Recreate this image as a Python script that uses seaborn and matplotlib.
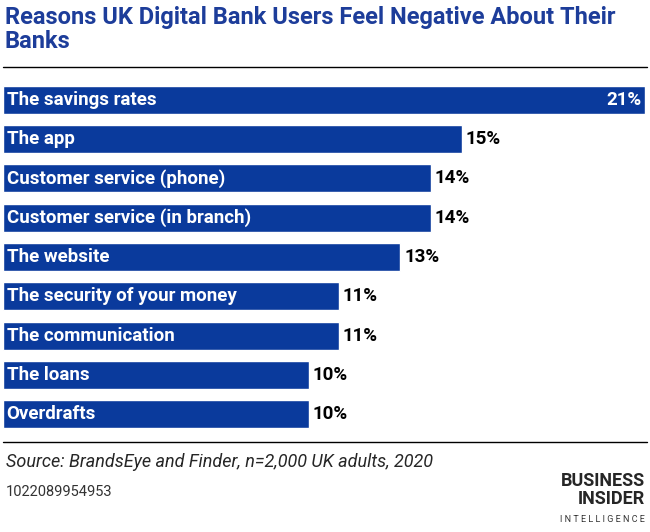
import matplotlib
matplotlib.use("Agg")
import matplotlib.pyplot as plt
import seaborn as sns
import pandas as pd

# data
reasons = ["The savings rates", "The app", "Customer service (phone)",
           "Customer service (in branch)", "The website",
           "The security of your money", "The communication", "The loans",
           "Overdrafts"]
shares = [21, 15, 14, 14, 13, 11, 11, 10, 10]

df = pd.DataFrame({"reason": reasons, "share": shares})

sns.set_style("white")
plt.rcParams['font.family'] = ['Roboto', 'DejaVu Sans']

W, H = 650, 532
fig = plt.figure(figsize=(6.5, 5.32), dpi=100)
ax = fig.add_axes([3 / W, 1 - 434 / H, 642 / W, (434 - 80) / H])

blue = "#0a3a9c"
sns.barplot(data=df, y="reason", x="share", color=blue, width=0.71,
            saturation=1, ax=ax, orient="h")
ax.set_xlim(0, 21)
ax.set_ylim(len(reasons) - 0.5, -0.5)
ax.axis("off")

for i, (r, v) in enumerate(zip(reasons, shares)):
    ax.text(0.12, i, r, color="white", fontsize=13.5, fontweight="bold",
            va="center", ha="left")
    if v == max(shares):
        ax.text(v - 0.12, i, f"{v}%", color="white", fontsize=13.5,
                fontweight="bold", va="center", ha="right")
    else:
        ax.text(v + 0.12, i, f"{v}%", color="black", fontsize=13.5,
                fontweight="bold", va="center", ha="left")

fig.text(5 / W, 1 - 6 / H,
         "Reasons UK Digital Bank Users Feel Negative About Their\nBanks",
         color="#1d3d9a", fontsize=17, fontweight="bold", va="top", ha="left",
         linespacing=1.05)
fig.add_artist(plt.Line2D([3 / W, 647 / W], [1 - 67 / H, 1 - 67 / H],
                          color="black", lw=1))
fig.add_artist(plt.Line2D([3 / W, 647 / W], [1 - 442 / H, 1 - 442 / H],
                          color="black", lw=1))
fig.text(6 / W, 1 - 462 / H, "Source: BrandsEye and Finder, n=2,000 UK adults, 2020",
         fontsize=13, style="italic", va="center", ha="left")
fig.text(6 / W, 1 - 492 / H, "1022089954953", fontsize=10.5, va="center",
         ha="left", color="#333333")
fig.text(645 / W, 1 - 490 / H, "BUSINESS\nINSIDER", fontsize=13,
         fontweight="bold", va="center", ha="right", linespacing=0.95)
fig.text(645 / W, 1 - 520 / H, "I N T E L L I G E N C E", fontsize=6.5,
         va="center", ha="right", color="#333333")

fig.savefig("out.png", dpi=100)
